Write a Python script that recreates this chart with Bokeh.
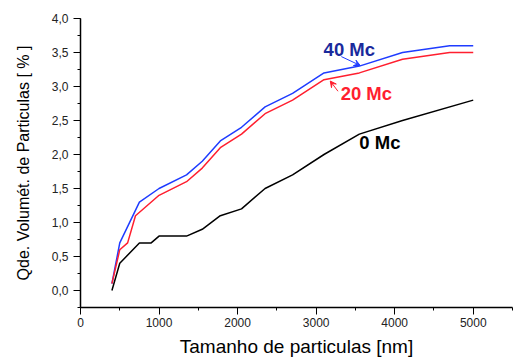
from bokeh.plotting import figure
from bokeh.models import Range1d, CustomJSTickFormatter, Arrow, VeeHead, Label, SingleIntervalTicker
from bokeh.embed import file_html
from bokeh.resources import INLINE

# Data
x_0mc = [400, 500, 750, 900, 1000, 1350, 1550, 1780, 2050, 2350, 2700, 3100, 3550, 4100, 5000]
y_0mc = [0.0, 0.4, 0.7, 0.7, 0.8, 0.8, 0.9, 1.1, 1.2, 1.5, 1.7, 2.0, 2.3, 2.5, 2.8]

x_20mc = [400, 500, 600, 700, 1000, 1350, 1550, 1780, 2050, 2350, 2700, 3100, 3550, 4100, 4700, 5000]
y_20mc = [0.1, 0.6, 0.7, 1.1, 1.4, 1.6, 1.8, 2.1, 2.3, 2.6, 2.8, 3.1, 3.2, 3.4, 3.5, 3.5]

x_40mc = [400, 500, 750, 1000, 1350, 1550, 1780, 2050, 2350, 2700, 3100, 3550, 4100, 4700, 5000]
y_40mc = [0.1, 0.7, 1.3, 1.5, 1.7, 1.9, 2.2, 2.4, 2.7, 2.9, 3.2, 3.3, 3.5, 3.6, 3.6]

labels = ["40 Mc", "20 Mc", "0 Mc"]
label_x = [3095, 3312, 3550]
label_y = [3.54, 2.89, 2.17]
arrow_40 = (3321, 3.44, 3560, 3.31)
arrow_20 = (3278, 2.93, 3180, 3.08)

BLUE = "#1f3cff"
RED = "#ff1f2f"
NAVY = "#1a2a9c"

p = figure(output_backend="svg", toolbar_location=None,
           frame_width=432, frame_height=289,
           min_border_left=80, min_border_top=18, min_border_right=9, min_border_bottom=50,
           x_range=Range1d(0, 5500), y_range=Range1d(-0.25, 4.0),
           x_axis_label="Tamanho de particulas [nm]",
           y_axis_label="Qde. Volumét. de Particulas [ % ]")
p.outline_line_color = None
p.xgrid.visible = False
p.ygrid.visible = False

p.line(x_40mc, y_40mc, line_color=BLUE, line_width=1.5)
p.line(x_20mc, y_20mc, line_color=RED, line_width=1.5)
p.line(x_0mc, y_0mc, line_color="black", line_width=1.5)

colors = [NAVY, RED, "black"]
for t, lx, ly, c in zip(labels, label_x, label_y, colors):
    p.add_layout(Label(x=lx, y=ly, text=t, text_color=c, text_font="Liberation Sans",
                       text_font_style="bold", text_font_size="18.5px",
                       text_baseline="middle", text_align="left"))

for (x0, y0, x1, y1), c in [(arrow_40, BLUE), (arrow_20, RED)]:
    p.add_layout(Arrow(x_start=x0, y_start=y0, x_end=x1, y_end=y1, line_color=c, line_width=1,
                       end=VeeHead(size=6, line_color=c, fill_color=c, line_width=1)))

p.yaxis.formatter = CustomJSTickFormatter(code="return tick.toFixed(1).replace('.', ',');")
p.yaxis.ticker = SingleIntervalTicker(interval=0.5, num_minor_ticks=2)
p.xaxis.ticker = SingleIntervalTicker(interval=1000, num_minor_ticks=2)

for ax in (p.xaxis, p.yaxis):
    ax.axis_line_width = 1.5
    ax.axis_line_color = "black"
    ax.major_tick_line_color = "black"
    ax.minor_tick_line_color = "black"
    ax.major_tick_out = 7
    ax.major_tick_in = 0
    ax.minor_tick_out = 3
    ax.minor_tick_in = 0
    ax.major_label_text_font = "Liberation Sans"
    ax.major_label_text_font_size = "12px"
    ax.major_label_text_color = "#222222"
    ax.axis_label_text_font = "Liberation Sans"
    ax.axis_label_text_font_style = "normal"
    ax.axis_label_text_color = "black"

p.xaxis.axis_label_text_font_size = "19px"
p.yaxis.axis_label_text_font_size = "16px"
p.xaxis.major_label_standoff = 3
p.xaxis.axis_label_standoff = 6
p.yaxis.major_label_standoff = 5
p.yaxis.axis_label_standoff = 17

open("out.html", "w").write(file_html(p, INLINE))
